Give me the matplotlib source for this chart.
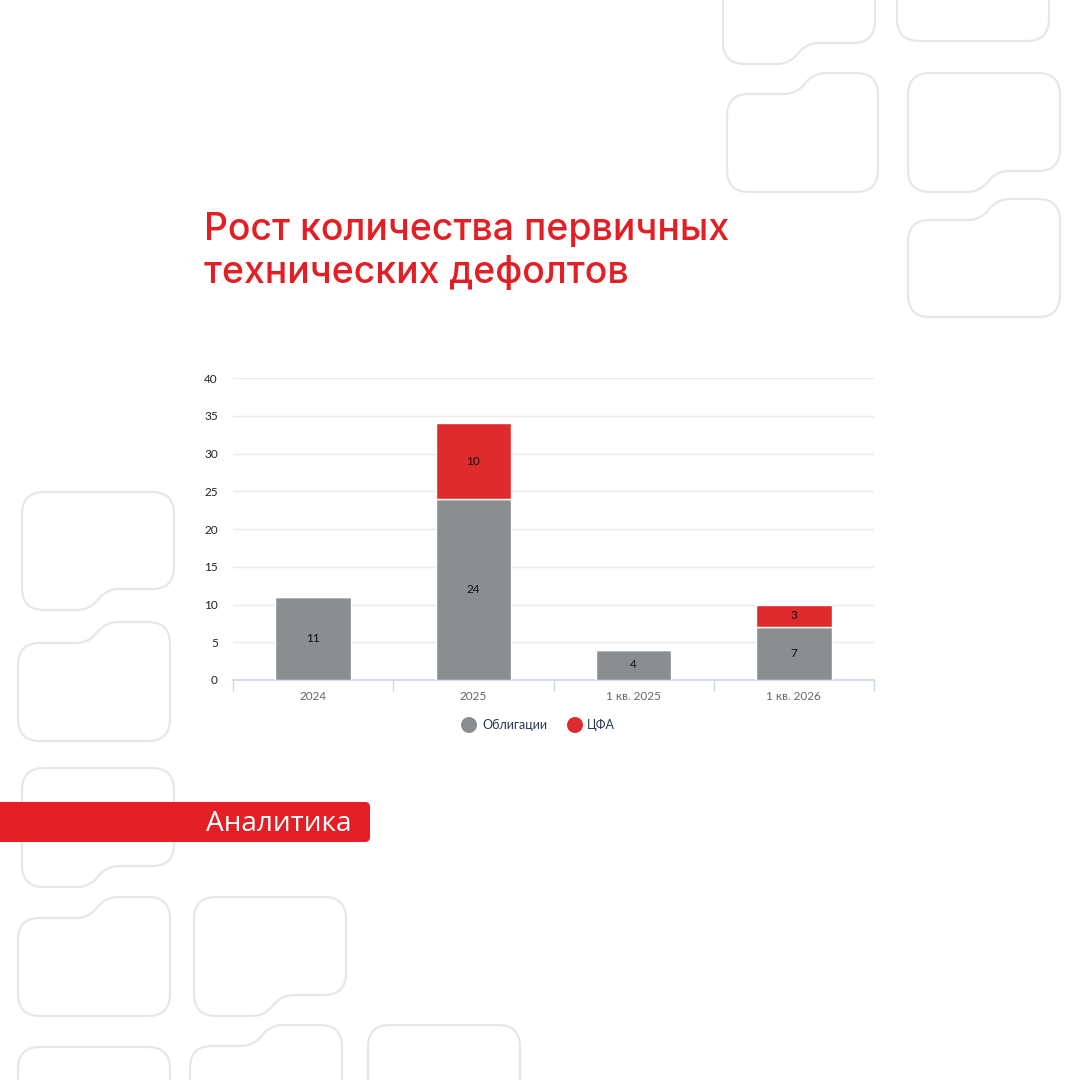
import numpy as np
import matplotlib.pyplot as plt
from matplotlib.path import Path
from matplotlib.patches import PathPatch, FancyBboxPatch

plt.rcParams['font.family'] = ['Lato', 'DejaVu Sans']

categories = ['2024', '2025', '1 кв. 2025', '1 кв. 2026']
bonds = [11, 24, 4, 7]
dfa = [0, 10, 0, 3]
series_names = ['Облигации', 'ЦФА']
y_ticks = [0, 5, 10, 15, 20, 25, 30, 35, 40]

GRAY = '#8b8e90'
RED = '#df2a2e'
BRAND = '#e31e24'

fig = plt.figure(figsize=(10.8, 10.8), dpi=100)
fig.patch.set_facecolor('white')

# background layer in pixel coordinates (y down)
bg = fig.add_axes([0, 0, 1, 1])
bg.set_xlim(0, 1080)
bg.set_ylim(1080, 0)
bg.axis('off')


def rounded_path(pts, radii):
    n = len(pts)
    verts, codes = [], []
    for i in range(n):
        p = np.array(pts[i], float)
        a = np.array(pts[i - 1], float)
        b = np.array(pts[(i + 1) % n], float)
        r = radii[i]
        p1 = p + r * (a - p) / np.linalg.norm(a - p)
        p2 = p + r * (b - p) / np.linalg.norm(b - p)
        verts.append(p1)
        codes.append(Path.MOVETO if i == 0 else Path.LINETO)
        verts += [p, p2]
        codes += [Path.CURVE3, Path.CURVE3]
    verts.append(verts[0])
    codes.append(Path.CLOSEPOLY)
    return Path(verts, codes)


def folder(x0, x1, y0, y1, xs, kind, d=21):
    r, rs = 22, 12
    if kind == 'bottom':
        pts = [(x0, y0), (x1, y0), (x1, y1 - d), (xs + 12, y1 - d), (xs - 6, y1), (x0, y1)]
        radii = [r, r, r, rs, rs, r]
    elif kind == 'top':
        pts = [(x0, y0 + d), (xs - 12, y0 + d), (xs + 6, y0), (x1, y0), (x1, y1), (x0, y1)]
        radii = [r, rs, rs, r, r, r]
    else:
        pts = [(x0, y0), (x1, y0), (x1, y1), (x0, y1)]
        radii = [r] * 4
    bg.add_patch(PathPatch(rounded_path(pts, radii), facecolor='none',
                           edgecolor='#e7e7e7', lw=1.6))


folder(723, 875, -40, 64, 795, 'bottom')
folder(897, 1049, -60, 41, 960, 'plain')
folder(727, 878, 73, 192, 808, 'top')
folder(908, 1060, 73, 192, 985, 'bottom')
folder(908, 1060, 199, 317, 992, 'top')
folder(22, 174, 492, 610, 95, 'bottom')
folder(18, 170, 622, 741, 100, 'top')
folder(22, 174, 768, 887, 95, 'bottom')
folder(18, 170, 897, 1016, 100, 'top')
folder(194, 346, 897, 1016, 270, 'bottom')
folder(190, 342, 1025, 1140, 265, 'top')
folder(368, 520, 1025, 1140, 440, 'plain')
folder(18, 170, 1047, 1140, 100, 'plain')

# banner
bg.add_patch(FancyBboxPatch((-20, 802), 390, 40, boxstyle='round,pad=0,rounding_size=5',
                            facecolor=BRAND, edgecolor='none'))
bg.text(351, 831, 'Аналитика', color='white', fontsize=20.2, ha='right', va='baseline',
        family=['Open Sans', 'DejaVu Sans'])

# title
bg.text(204, 240, 'Рост количества первичных', color=BRAND, fontsize=26.9,
        fontweight='medium', family=['Inter', 'DejaVu Sans'], va='baseline')
bg.text(204, 283, 'технических дефолтов', color=BRAND, fontsize=26.9,
        fontweight='medium', family=['Inter', 'DejaVu Sans'], va='baseline')

# chart
ax = fig.add_axes([233 / 1080, 400 / 1080, 641 / 1080, 302 / 1080])
ax.set_facecolor('none')
x = np.arange(len(categories))
w = 0.47
ax.bar(x, bonds, w, color=GRAY, edgecolor='white', lw=1, zorder=3)
ax.bar(x, dfa, w, bottom=bonds, color=RED, edgecolor='white', lw=1, zorder=3)
for i in range(len(categories)):
    ax.text(x[i], bonds[i] / 2, str(bonds[i]), ha='center', va='center', fontsize=8.5,
            color='#111111', zorder=4)
    if dfa[i]:
        ax.text(x[i], bonds[i] + dfa[i] / 2, str(dfa[i]), ha='center', va='center',
                fontsize=8.5, color='#111111', zorder=4)

ax.set_xlim(-0.5, len(categories) - 0.5)
ax.set_ylim(0, 40)
ax.set_yticks(y_ticks)
ax.set_yticklabels([str(t) for t in y_ticks], fontsize=8.5, color='#222222')
ax.tick_params(axis='y', length=0, pad=11)
ax.grid(axis='y', color='#e8e8ee', lw=1, zorder=0)
ax.set_xticks(x)
ax.set_xticklabels(categories, fontsize=8.5, color='#666666')
ax.tick_params(axis='x', length=0, pad=8)
ax.set_xticks(np.arange(-0.5, len(categories)), minor=True)
ax.tick_params(axis='x', which='minor', length=8, color='#ccd6eb', width=1)
for s in ['top', 'right', 'left']:
    ax.spines[s].set_visible(False)
ax.spines['bottom'].set_color('#ccd6eb')
ax.spines['bottom'].set_linewidth(1.2)

# legend
bg.scatter([469, 575], [725, 725], s=110, c=[GRAY, RED], zorder=5)
bg.text(482, 725, series_names[0], fontsize=9, color='#2a3650', va='center')
bg.text(587, 725, series_names[1], fontsize=9, color='#2a3650', va='center')

fig.savefig('out.png', dpi=100, facecolor='white')
